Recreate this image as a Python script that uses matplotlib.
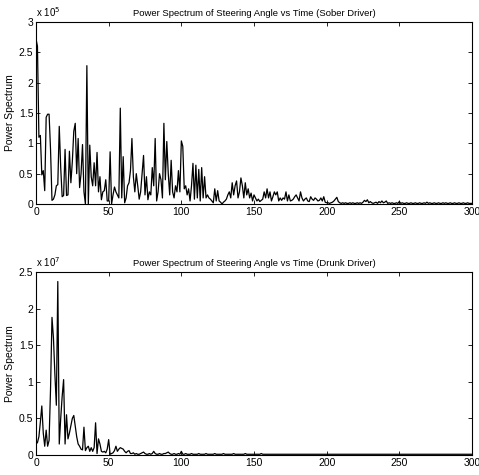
import matplotlib
matplotlib.use("Agg")
import matplotlib.pyplot as plt
from matplotlib.ticker import FuncFormatter, MultipleLocator

plt.rcParams['font.family'] = ['Liberation Sans', 'DejaVu Sans']

# Sober driver power spectrum, in units of 1e5 (index 0..300)
sober_scale = 1e5
sober_vals = [
    2.72, 2.60, 1.10, 1.13, 0.48, 0.55, 0.22, 1.43, 1.48, 1.48,
    0.90, 0.06, 0.08, 0.15, 0.30, 0.32, 1.28, 0.60, 0.12, 0.14,
    0.90, 0.14, 0.15, 0.87, 0.35, 0.70, 1.20, 1.33, 0.50, 1.08,
    0.27, 0.50, 0.98, 0.20, 0.00, 2.28, 0.00, 0.97, 0.45, 0.30,
    0.68, 0.30, 0.85, 0.20, 0.45, 0.07, 0.20, 0.22, 0.40, 0.05,
    0.05, 0.86, 0.00, 0.15, 0.28, 0.20, 0.15, 0.10, 1.58, 0.10,
    0.78, 0.02, 0.10, 0.30, 0.35, 0.55, 1.08, 0.45, 0.20, 0.50,
    0.30, 0.08, 0.20, 0.50, 0.80, 0.15, 0.45, 0.07, 0.20, 0.15,
    0.60, 0.30, 1.08, 0.05, 0.20, 0.50, 0.40, 0.10, 1.33, 0.40,
    1.03, 0.50, 0.15, 0.72, 0.20, 0.10, 0.30, 0.20, 0.55, 0.20,
    1.04, 0.95, 0.25, 0.30, 0.15, 0.25, 0.05, 0.30, 0.67, 0.08,
    0.64, 0.10, 0.57, 0.05, 0.60, 0.10, 0.45, 0.10, 0.15, 0.10,
    0.08, 0.05, 0.02, 0.25, 0.05, 0.22, 0.05, 0.03, 0.00, 0.03,
    0.05, 0.08, 0.15, 0.20, 0.10, 0.35, 0.15, 0.30, 0.38, 0.10,
    0.20, 0.43, 0.30, 0.10, 0.35, 0.15, 0.25, 0.10, 0.18, 0.05,
    0.15, 0.10, 0.05, 0.08, 0.04, 0.06, 0.08, 0.20, 0.10, 0.25,
    0.10, 0.20, 0.05, 0.12, 0.20, 0.15, 0.20, 0.05, 0.10, 0.06,
    0.10, 0.08, 0.20, 0.05, 0.15, 0.05, 0.06, 0.08, 0.12, 0.15,
    0.10, 0.05, 0.20, 0.10, 0.05, 0.08, 0.10, 0.05, 0.04, 0.12,
    0.08, 0.06, 0.10, 0.08, 0.05, 0.06, 0.10, 0.05, 0.12, 0.03,
    0.02, 0.02, 0.01, 0.02, 0.03, 0.05, 0.08, 0.11, 0.04, 0.02,
    0.01, 0.02, 0.01, 0.02, 0.01, 0.01, 0.02, 0.01, 0.02, 0.01,
    0.01, 0.02, 0.01, 0.02, 0.01, 0.03, 0.06, 0.04, 0.07, 0.02,
    0.04, 0.02, 0.01, 0.02, 0.03, 0.01, 0.04, 0.02, 0.05, 0.02,
    0.03, 0.05, 0.01, 0.02, 0.01, 0.02, 0.01, 0.01, 0.02, 0.01,
    0.04, 0.01, 0.02, 0.01, 0.01, 0.02, 0.01, 0.01, 0.02, 0.01,
    0.01, 0.02, 0.01, 0.01, 0.02, 0.01, 0.01, 0.02, 0.01, 0.03,
    0.01, 0.02, 0.01, 0.01, 0.02, 0.01, 0.01, 0.02, 0.01, 0.01,
    0.02, 0.01, 0.02, 0.01, 0.01, 0.02, 0.01, 0.01, 0.02, 0.01,
    0.01, 0.02, 0.01, 0.01, 0.02, 0.01, 0.01, 0.02, 0.01, 0.01,
    0.01,
]

# Drunk driver power spectrum, in units of 1e7 (index 0..300)
drunk_scale = 1e7
drunk_vals = [
    0.15, 0.17, 0.25, 0.45, 0.67, 0.30, 0.12, 0.34, 0.12, 0.20,
    0.90, 1.88, 1.60, 1.10, 0.68, 2.37, 0.15, 0.50, 0.80, 1.03,
    0.15, 0.55, 0.22, 0.30, 0.40, 0.50, 0.54, 0.40, 0.25, 0.15,
    0.12, 0.08, 0.07, 0.38, 0.06, 0.10, 0.12, 0.05, 0.10, 0.05,
    0.10, 0.44, 0.02, 0.22, 0.15, 0.05, 0.04, 0.05, 0.03, 0.08,
    0.21, 0.01, 0.02, 0.03, 0.06, 0.12, 0.05, 0.08, 0.10, 0.09,
    0.08, 0.05, 0.03, 0.05, 0.06, 0.02, 0.02, 0.03, 0.01, 0.02,
    0.01, 0.01, 0.02, 0.03, 0.04, 0.02, 0.01, 0.01, 0.02, 0.01,
    0.02, 0.05, 0.02, 0.01, 0.01, 0.02, 0.01, 0.01, 0.02, 0.02,
    0.03, 0.04, 0.02, 0.01, 0.01, 0.02, 0.01, 0.01, 0.02, 0.01,
    0.05, 0.01, 0.01, 0.02, 0.01, 0.01, 0.01, 0.02, 0.01, 0.01,
    0.01, 0.01, 0.02, 0.01, 0.01, 0.01, 0.01, 0.02, 0.01, 0.01,
    0.01, 0.01, 0.01, 0.02, 0.01, 0.01, 0.01, 0.01, 0.01, 0.02,
    0.01, 0.01, 0.01, 0.01, 0.01, 0.01, 0.02, 0.01, 0.01, 0.01,
    0.01, 0.01, 0.01, 0.01, 0.02, 0.01, 0.01, 0.01, 0.01, 0.01,
    0.01, 0.01, 0.01, 0.01, 0.01, 0.02, 0.01, 0.01, 0.01, 0.01,
    0.01, 0.01, 0.01, 0.01, 0.01, 0.01, 0.01, 0.01, 0.01, 0.01,
    0.01, 0.01, 0.01, 0.01, 0.01, 0.01, 0.01, 0.01, 0.01, 0.01,
    0.01, 0.01, 0.01, 0.01, 0.01, 0.01, 0.01, 0.01, 0.01, 0.01,
    0.01, 0.01, 0.01, 0.01, 0.01, 0.01, 0.01, 0.01, 0.01, 0.01,
    0.01, 0.01, 0.01, 0.01, 0.01, 0.01, 0.01, 0.01, 0.01, 0.01,
    0.01, 0.01, 0.01, 0.01, 0.01, 0.01, 0.01, 0.01, 0.01, 0.01,
    0.01, 0.01, 0.01, 0.01, 0.01, 0.01, 0.01, 0.01, 0.01, 0.01,
    0.01, 0.01, 0.01, 0.01, 0.01, 0.01, 0.01, 0.01, 0.01, 0.01,
    0.01, 0.01, 0.01, 0.01, 0.01, 0.01, 0.01, 0.01, 0.01, 0.01,
    0.01, 0.01, 0.01, 0.01, 0.01, 0.01, 0.01, 0.01, 0.01, 0.01,
    0.01, 0.01, 0.01, 0.01, 0.01, 0.01, 0.01, 0.01, 0.01, 0.01,
    0.01, 0.01, 0.01, 0.01, 0.01, 0.01, 0.01, 0.01, 0.01, 0.01,
    0.01, 0.01, 0.01, 0.01, 0.01, 0.01, 0.01, 0.01, 0.01, 0.01,
    0.01, 0.01, 0.01, 0.01, 0.01, 0.01, 0.01, 0.01, 0.01, 0.01,
    0.01,
]

titles = ["Power Spectrum of Steering Angle vs Time (Sober Driver)",
          "Power Spectrum of Steering Angle vs Time (Drunk Driver)"]
ylabel = "Power Spectrum"
x_ticks = [0, 50, 100, 150, 200, 250, 300]

fig = plt.figure(figsize=(4.79, 4.75), dpi=100)
W, H = 479.0, 475.0
ax1 = fig.add_axes([36 / W, (H - 204) / H, (472 - 36) / W, (204 - 22) / H])
ax2 = fig.add_axes([36 / W, (H - 455) / H, (472 - 36) / W, (455 - 272) / H])

panels = [
    (ax1, sober_vals, sober_scale, 3.0, 0.5, 5, titles[0]),
    (ax2, drunk_vals, drunk_scale, 2.5, 0.5, 7, titles[1]),
]

for ax, vals, scale, ymax, ystep, expo, title in panels:
    xs = list(range(len(vals)))
    ys = [v * scale for v in vals]
    ax.plot(xs, ys, color='black', lw=0.9)
    ax.set_xlim(0, 300)
    ax.set_ylim(0, ymax * scale)
    ax.set_xticks(x_ticks)
    ax.yaxis.set_major_locator(MultipleLocator(ystep * scale))
    ax.yaxis.set_major_formatter(FuncFormatter(
        lambda v, p, s=scale: ('%g' % round(v / s, 3))))
    ax.tick_params(direction='in', top=True, right=True, length=3,
                   width=0.6, labelsize=7.5, pad=2)
    for sp in ax.spines.values():
        sp.set_linewidth(0.8)
    ax.set_title(title, fontsize=6.8, pad=4)
    ax.set_ylabel(ylabel, fontsize=7.5, labelpad=3)
    ax.text(0.0, 1.015, r'x 10$^{%d}$' % expo, transform=ax.transAxes,
            fontsize=7, ha='left', va='bottom')

fig.savefig("out.png", dpi=100)
